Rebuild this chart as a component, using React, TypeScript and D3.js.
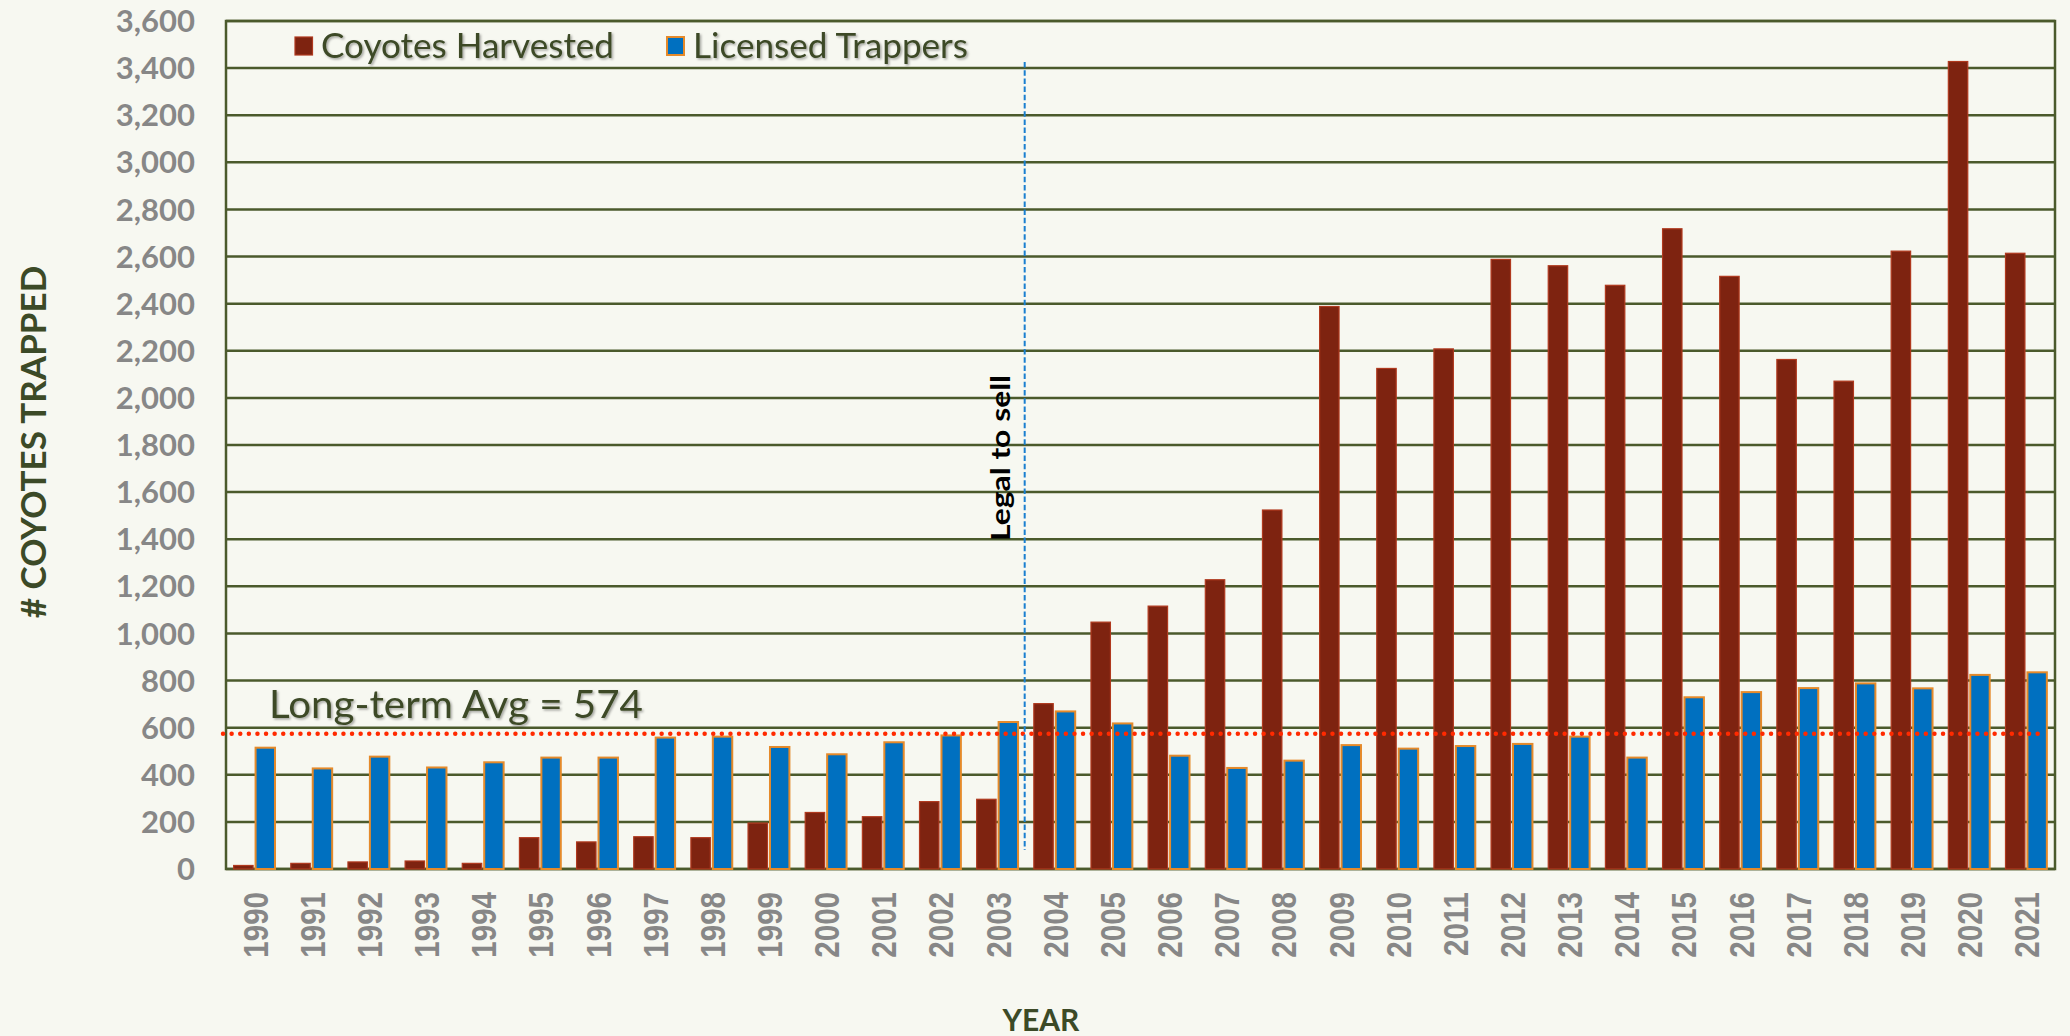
import React from "react";
import * as d3 from "d3";

const years: string[] = [
  "1990","1991","1992","1993","1994","1995","1996","1997","1998","1999","2000",
  "2001","2002","2003","2004","2005","2006","2007","2008","2009","2010","2011",
  "2012","2013","2014","2015","2016","2017","2018","2019","2020","2021",
];
const coyotesHarvested: number[] = [
  15, 24, 30, 34, 24, 133, 115, 137, 133, 195, 240,
  222, 286, 296, 702, 1048, 1116, 1228, 1524, 2388, 2125, 2208,
  2588, 2561, 2478, 2718, 2516, 2163, 2071, 2623, 3428, 2614,
];
const licensedTrappers: number[] = [
  515, 427, 477, 431, 453, 473, 473, 558, 562, 518, 487,
  538, 567, 624, 669, 618, 481, 429, 460, 526, 511, 522,
  531, 562, 473, 729, 751, 768, 788, 767, 824, 835,
];
const yTicks: number[] = d3.range(0, 3601, 200);
const longTermAvg = 574;
const avgLabel = "Long-term Avg = 574";
const legalYear = "2004";
const legalLabel = "Legal to sell";
const seriesNames: string[] = ["Coyotes Harvested", "Licensed Trappers"];

const W = 2070;
const H = 1036;
const left = 226;
const right = 2055;
const top = 21;
const bottom = 869;

const BG = "#f7f8f1";
const GRID = "#4b5a2c";
const OLIVE = "#3c4a27";
const GREY = "#878787";
const RED = "#7e2310";
const RED_EDGE = "#b0391e";
const BLUE = "#0070c0";
const BLUE_EDGE = "#e58a2a";

export default function App() {
  const x = d3.scaleBand<string>().domain(years).range([left, right]).paddingInner(0).paddingOuter(0);
  const y = d3.scaleLinear().domain([0, 3600]).range([bottom, top]);
  const bw = x.bandwidth() * 0.34;
  const fmt = d3.format(",");
  const legalX = (x(legalYear) as number) - 1.5;

  return (
    <svg width={W} height={H} style={{ position: "absolute", left: 0, top: 0 }}>
      <defs>
        <filter id="shadow" x="-5%" y="-20%" width="110%" height="150%">
          <feDropShadow dx="1.5" dy="1.5" stdDeviation="1.2" floodColor="#000" floodOpacity="0.35" />
        </filter>
      </defs>
      <rect x={0} y={0} width={W} height={H} fill={BG} />

      {/* gridlines */}
      {yTicks.map((t) => (
        <line key={t} x1={left} x2={right} y1={y(t)} y2={y(t)} stroke={GRID} strokeWidth={2.5} />
      ))}
      {/* plot border */}
      <rect x={left} y={top} width={right - left} height={bottom - top} fill="none" stroke={GRID} strokeWidth={2.5} />

      {/* y tick labels */}
      {yTicks.map((t) => (
        <text key={"yl" + t} x={195} y={y(t)} dy="0.36em" textAnchor="end"
          fontFamily="Lato" fontWeight="bold" fontSize={31} fill={GREY}>
          {fmt(t)}
        </text>
      ))}

      {/* bars */}
      {years.map((yr, i) => {
        const c = (x(yr) as number) + x.bandwidth() / 2;
        return (
          <g key={yr}>
            <rect x={c - 1.5 - bw} y={y(coyotesHarvested[i])} width={bw}
              height={bottom - y(coyotesHarvested[i])} fill={RED} stroke={RED_EDGE} strokeWidth={1.2} />
            <rect x={c + 1} y={y(licensedTrappers[i])} width={bw}
              height={bottom - y(licensedTrappers[i])} fill={BLUE} stroke={BLUE_EDGE} strokeWidth={2} />
          </g>
        );
      })}

      {/* x tick labels */}
      {years.map((yr) => {
        const c = (x(yr) as number) + x.bandwidth() / 2;
        return (
          <text key={"xl" + yr} transform={`translate(${c + 13},${892}) rotate(-90) scale(0.82,1)`} textAnchor="end"
            fontFamily="Liberation Sans" fontWeight="bold" fontSize={36} fill={GREY}>
            {yr}
          </text>
        );
      })}

      {/* long-term average dotted line */}
      <line x1={223} x2={2043} y1={y(longTermAvg)} y2={y(longTermAvg)} stroke="#ff2a00"
        strokeWidth={4.4} strokeDasharray="0.1 8.5" strokeLinecap="round" />
      <text x={269} y={718} fontFamily="Lato" fontSize={38} fill={OLIVE} filter="url(#shadow)"
        textLength={374} lengthAdjust="spacingAndGlyphs">
        {avgLabel}
      </text>

      {/* legal to sell dashed line */}
      <line x1={legalX} x2={legalX} y1={62} y2={850} stroke="#1a7fd0" strokeWidth={2} strokeDasharray="5.5 2.7" />
      <text transform={`translate(${1010},${541}) rotate(-90)`} textAnchor="start"
        fontFamily="Lato" fontWeight="bold" fontSize={26} fill="#000"
        textLength={166} lengthAdjust="spacingAndGlyphs">
        {legalLabel}
      </text>

      {/* legend */}
      <rect x={295} y={37} width={17.5} height={18} fill={RED} stroke={RED_EDGE} strokeWidth={1.2} />
      <text x={321} y={58} fontFamily="Lato" fontSize={34} fill={OLIVE} filter="url(#shadow)"
        textLength={293} lengthAdjust="spacingAndGlyphs">
        {seriesNames[0]}
      </text>
      <rect x={667} y={37} width={17} height={18} fill={BLUE} stroke={BLUE_EDGE} strokeWidth={2} />
      <text x={693} y={58} fontFamily="Lato" fontSize={34} fill={OLIVE} filter="url(#shadow)"
        textLength={275} lengthAdjust="spacingAndGlyphs">
        {seriesNames[1]}
      </text>

      {/* axis titles */}
      <text transform={`translate(${46},${442}) rotate(-90)`} textAnchor="middle"
        fontFamily="Lato" fontWeight="bold" fontSize={35} fill={OLIVE}>
        # COYOTES TRAPPED
      </text>
      <text x={1041} y={1031} textAnchor="middle" fontFamily="Lato" fontWeight="bold" fontSize={30} fill={OLIVE}>
        YEAR
      </text>
    </svg>
  );
}
